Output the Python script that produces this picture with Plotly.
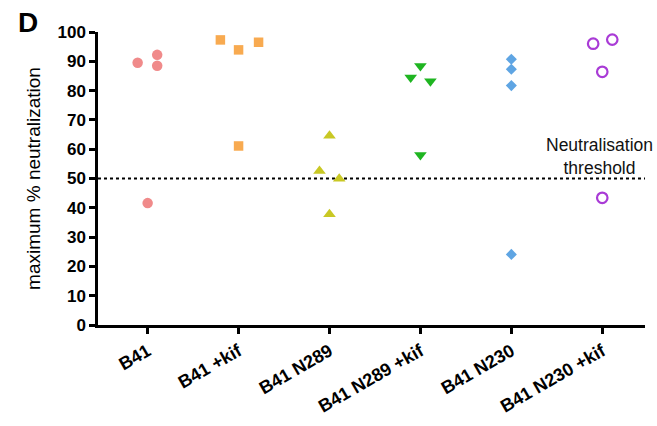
import plotly.graph_objects as go

categories = ["B41", "B41 +kif", "B41 N289", "B41 N289 +kif", "B41 N230", "B41 N230 +kif"]

# values per group (maximum % neutralization)
b41 = [89.5, 92.2, 88.5, 41.6]
b41_kif = [97.3, 93.9, 96.5, 61.1]
b41_n289 = [64.6, 52.6, 49.9, 37.8]
b41_n289_kif = [88.4, 84.5, 83.2, 58.0]
b41_n230 = [90.7, 87.3, 81.7, 24.1]
b41_n230_kif = [96.0, 97.4, 86.4, 43.4]

# horizontal scatter offsets (layout jitter) within each category
jit_b41 = [-0.11, 0.105, 0.105, 0.0]
jit_b41_kif = [-0.2, 0.0, 0.22, 0.0]
jit_b41_n289 = [0.0, -0.11, 0.107, 0.0]
jit_b41_n289_kif = [0.0, -0.107, 0.11, 0.0]
jit_b41_n230 = [0.0, 0.0, 0.0, 0.0]
jit_b41_n230_kif = [-0.10, 0.11, 0.0, 0.0]

threshold = 50
y_ticks = list(range(0, 101, 10))

FONT = "Liberation Sans, Arial, Helvetica"

series = [
    (b41, jit_b41, dict(symbol="circle", size=10.5, color="#F08A8A")),
    (b41_kif, jit_b41_kif, dict(symbol="square", size=9.5, color="#F8AA50")),
    (b41_n289, jit_b41_n289, dict(symbol="triangle-up", size=11, color="#C9C824")),
    (b41_n289_kif, jit_b41_n289_kif, dict(symbol="triangle-down", size=11, color="#1FB521")),
    (b41_n230, jit_b41_n230, dict(symbol="diamond", size=8.5, color="#5FA5E3")),
    (b41_n230_kif, jit_b41_n230_kif, dict(symbol="circle-open", size=10.5, color="#A93BD6",
                                           line=dict(width=2.2, color="#A93BD6"))),
]

fig = go.Figure()
for i, (vals, jit, mk) in enumerate(series):
    fig.add_trace(go.Scatter(
        x=[i + j for j in jit], y=vals, mode="markers",
        marker=mk, name=categories[i], showlegend=False,
        cliponaxis=False,
    ))

fig.add_shape(type="line", xref="paper", yref="y", x0=0, x1=1,
              y0=threshold, y1=threshold,
              line=dict(color="black", width=2, dash="dot"), layer="below")

fig.add_annotation(text="Neutralisation<br>threshold", xref="x", yref="y",
                   x=4.97, y=threshold, xanchor="center", yanchor="bottom",
                   showarrow=False, align="center",
                   font=dict(family=FONT, size=17.5, color="#111"),
                   yshift=-1)

fig.add_annotation(text="<b>D</b>", xref="paper", yref="paper",
                   x=-0.15, y=1.034, xanchor="left", yanchor="middle",
                   showarrow=False,
                   font=dict(family=FONT, size=28, color="black"))

fig.update_layout(
    width=657, height=426,
    margin=dict(l=98, r=12, t=32, b=101),
    paper_bgcolor="white", plot_bgcolor="white",
    font=dict(family=FONT, color="black"),
)

fig.update_xaxes(
    range=[-0.546, 5.47], tickmode="array",
    tickvals=list(range(len(categories))),
    ticktext=[f"<b>{c}</b>" for c in categories],
    tickangle=-30, tickfont=dict(size=18),
    showline=True, linecolor="black", linewidth=2.5,
    ticks="outside", ticklen=6, tickwidth=2.5, tickcolor="black",
    showgrid=False, zeroline=False, automargin=False,
)

fig.update_yaxes(
    range=[0, 100], tickmode="array", tickvals=y_ticks,
    ticktext=[f"<b>{t}</b>" for t in y_ticks],
    tickfont=dict(size=17),
    showline=True, linecolor="black", linewidth=2.5,
    ticks="outside", ticklen=6, tickwidth=2.5, tickcolor="black",
    showgrid=False, zeroline=False, automargin=False,
    title=dict(text="maximum % neutralization", font=dict(size=19), standoff=12),
)

fig.write_html("out.html")
